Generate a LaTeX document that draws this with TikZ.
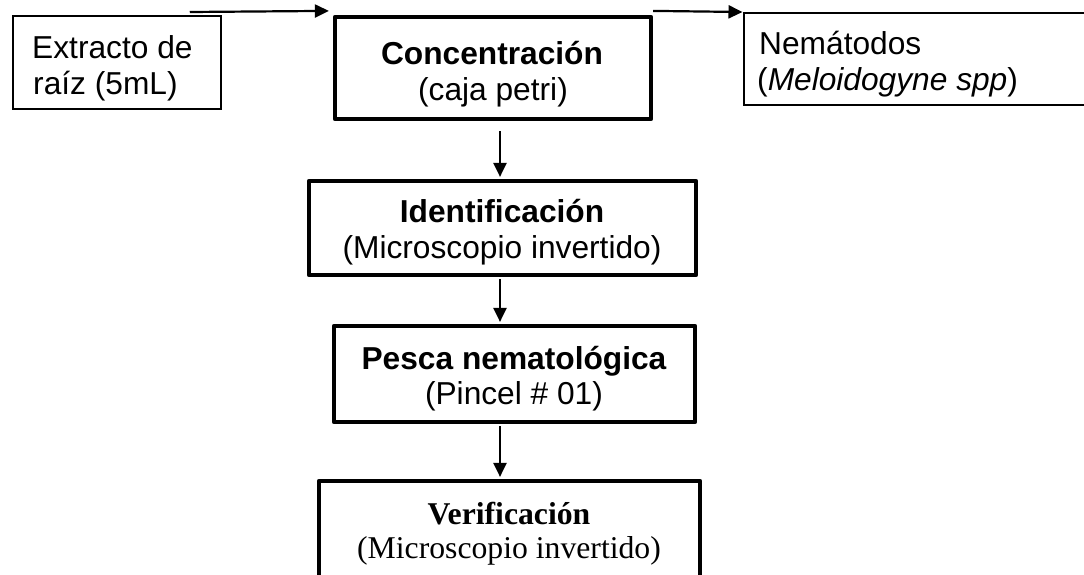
\documentclass[tikz,border=0pt]{standalone}
\usepackage{fontspec}
\newfontfamily\arialf{Liberation Sans}
\newfontfamily\timesf{Liberation Serif}
\usetikzlibrary{arrows.meta,calc}

\tikzset{
  thinbox/.style={draw, line width=2pt, inner sep=0pt, rectangle},
  thickbox/.style={draw, line width=4.2pt, line join=round, inner sep=0pt, rectangle},
  txt/.style={inner sep=0pt, anchor=base, font=\arialf\fontsize{31.7}{36}\selectfont},
  txtl/.style={txt, anchor=base west},
  txtb/.style={txt, font=\arialf\bfseries\fontsize{31.7}{36}\selectfont},
  serif/.style={txt, font=\timesf\fontsize{31.7}{36}\selectfont},
  serifb/.style={txt, font=\timesf\bfseries\fontsize{31.7}{36}\selectfont},
  arr/.style={line width=2.2pt, -{Triangle[length=14pt,width=13pt]}},
}

\begin{document}
\begin{tikzpicture}[x=1pt,y=-1pt]
  \useasboundingbox (0,0) rectangle (1084,574);
  \clip (0,0) rectangle (1084,574);

  % boxes
  \node[thinbox,  minimum width=208.5pt, minimum height=93.5pt] (ext)   at (117,62.5)   {};
  \node[thickbox, minimum width=316pt,   minimum height=102pt]  (conc)  at (493,68)     {};
  \node[thinbox,  minimum width=356pt,   minimum height=92.5pt] (nem)   at (922,59)     {};
  \node[thickbox, minimum width=387pt,   minimum height=94pt]   (ident) at (502.5,228)  {};
  \node[thickbox, minimum width=361pt,   minimum height=96pt]   (pesca) at (514.5,374)  {};
  \node[thickbox, minimum width=381pt,   minimum height=119pt]  (verif) at (509.5,540.5){};

  % labels
  \node[txtl] (ext1) at (32,58) {Extracto de};
  \node[txtl] (ext2) at (33,94) {raíz (5mL)};

  \node[txtb] (conc1) at (492,64) {Concentración};
  \node[txt]  (conc2) at (493,100) {(caja petri)};

  \node[txtl] (nem1) at (759,54) {Nemátodos};
  \node[txtl] (nem2) at (757,90) {(\textit{Meloidogyne spp})};

  \node[txtb] (ident1) at (502,222) {Identificación};
  \node[txt]  (ident2) at (502,258) {(Microscopio invertido)};

  \node[txtb] (pesca1) at (514,369) {Pesca nematológica};
  \node[txt]  (pesca2) at (514,404) {(Pincel \# 01)};

  \node[serifb] (verif1) at (509,524) {Verificación};
  \node[serif]  (verif2) at (509,558) {(Microscopio invertido)};

  % connectors
  \coordinate (col) at (500,0);
  \draw[arr] ($(ext.north west)+(178,-2.75)$) -- ($(conc.north west)+(-4,-4)$);
  \draw[arr] ($(conc.north east)+(0,-4)$) -- ($(nem.north west)+(-0.5,0.25)$);
  \draw[arr] ($(conc.south -| col)+(0,10)$) -- ($(ident.north -| col)+(0,-2)$);
  \draw[arr] ($(ident.south -| col)+(0,2)$) -- ($(pesca.north -| col)+(0,-2)$);
  \draw[arr] ($(pesca.south -| col)+(0,2)$) -- ($(verif.north -| col)+(0,-2)$);
\end{tikzpicture}
\end{document}
